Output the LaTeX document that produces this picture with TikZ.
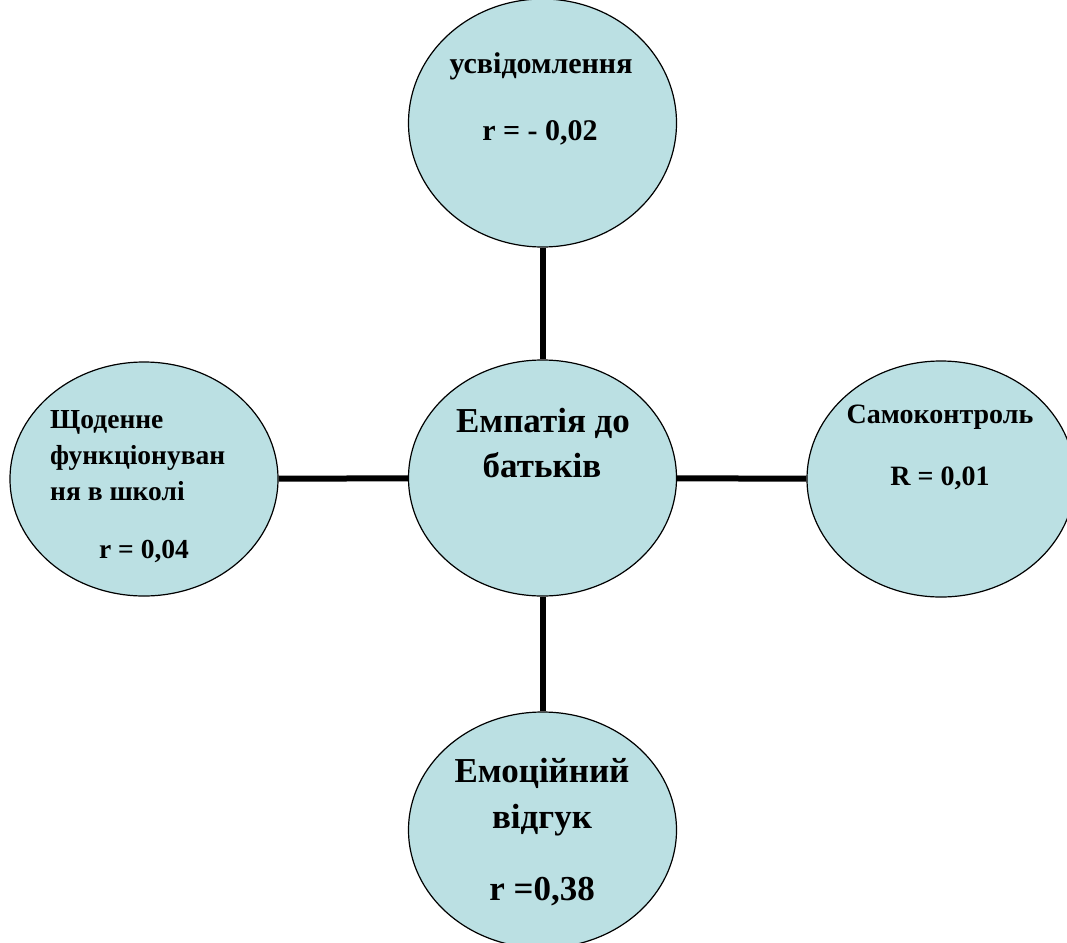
\documentclass[tikz,border=0pt]{standalone}
\usepackage{fontspec}
\setmainfont{Liberation Serif}
\usetikzlibrary{shapes.geometric}
\definecolor{bub}{HTML}{BBE0E3}
\tikzset{
  bubble/.style={ellipse, draw=black, line width=1.2pt, fill=bub, inner sep=0pt, minimum width=268pt},
  link/.style={line width=6pt, draw=black},
  lbl/.style={anchor=base, inner sep=0pt}
}
\newcommand{\fs}[1]{\fontsize{#1}{#1}\bfseries\selectfont}
\begin{document}
\begin{tikzpicture}[x=1pt,y=-1pt]
\useasboundingbox (0,0) rectangle (1067,942);
\clip (0,0) rectangle (1067,942);
\fill[white] (0,0) rectangle (1067,942);
\node[bubble, minimum height=248pt] (top) at (542.5,123) {};
\node[bubble, minimum height=236pt] (mid) at (542.5,478) {};
\node[bubble, minimum height=234pt] (left) at (144,479) {};
\node[bubble, minimum height=236pt] (right) at (941,479) {};
\node[bubble, minimum height=236pt] (bot) at (542.5,830) {};
\draw[link] (top) -- (mid);
\draw[link] (left) -- (mid);
\draw[link] (right) -- (mid);
\draw[link] (bot) -- (mid);
% top texts
\node[lbl, font=\fs{30}] (t1) at (541,74) {усвідомлення};
\node[lbl, font=\fs{30}] (t2) at (540,140) {r = - 0,02};
% centre
\node[lbl, font=\fs{35}] (m1) at (543,432) {Емпатія до};
\node[lbl, font=\fs{35}] (m2) at (542,477) {батьків};
% left
\node[lbl, anchor=base west, font=\fs{27.5}] (l1) at (50,428) {Щоденне};
\node[lbl, anchor=base west, font=\fs{27.5}] (l2) at (50,464) {функціонуван};
\node[lbl, anchor=base west, font=\fs{27.5}] (l3) at (50,500) {ня в школі};
\node[lbl, font=\fs{27.5}] (l4) at (144,558) {r = 0,04};
% right
\node[lbl, font=\fs{28}] (r1) at (940,423) {Самоконтроль};
\node[lbl, font=\fs{28}] (r2) at (940,485) {R = 0,01};
% bottom
\node[lbl, font=\fs{35}] (b1) at (542,782) {Емоційний};
\node[lbl, font=\fs{35}] (b2) at (542,828) {відгук};
\node[lbl, font=\fs{35}] (b3) at (542,900) {r =0,38};
\end{tikzpicture}
\end{document}
